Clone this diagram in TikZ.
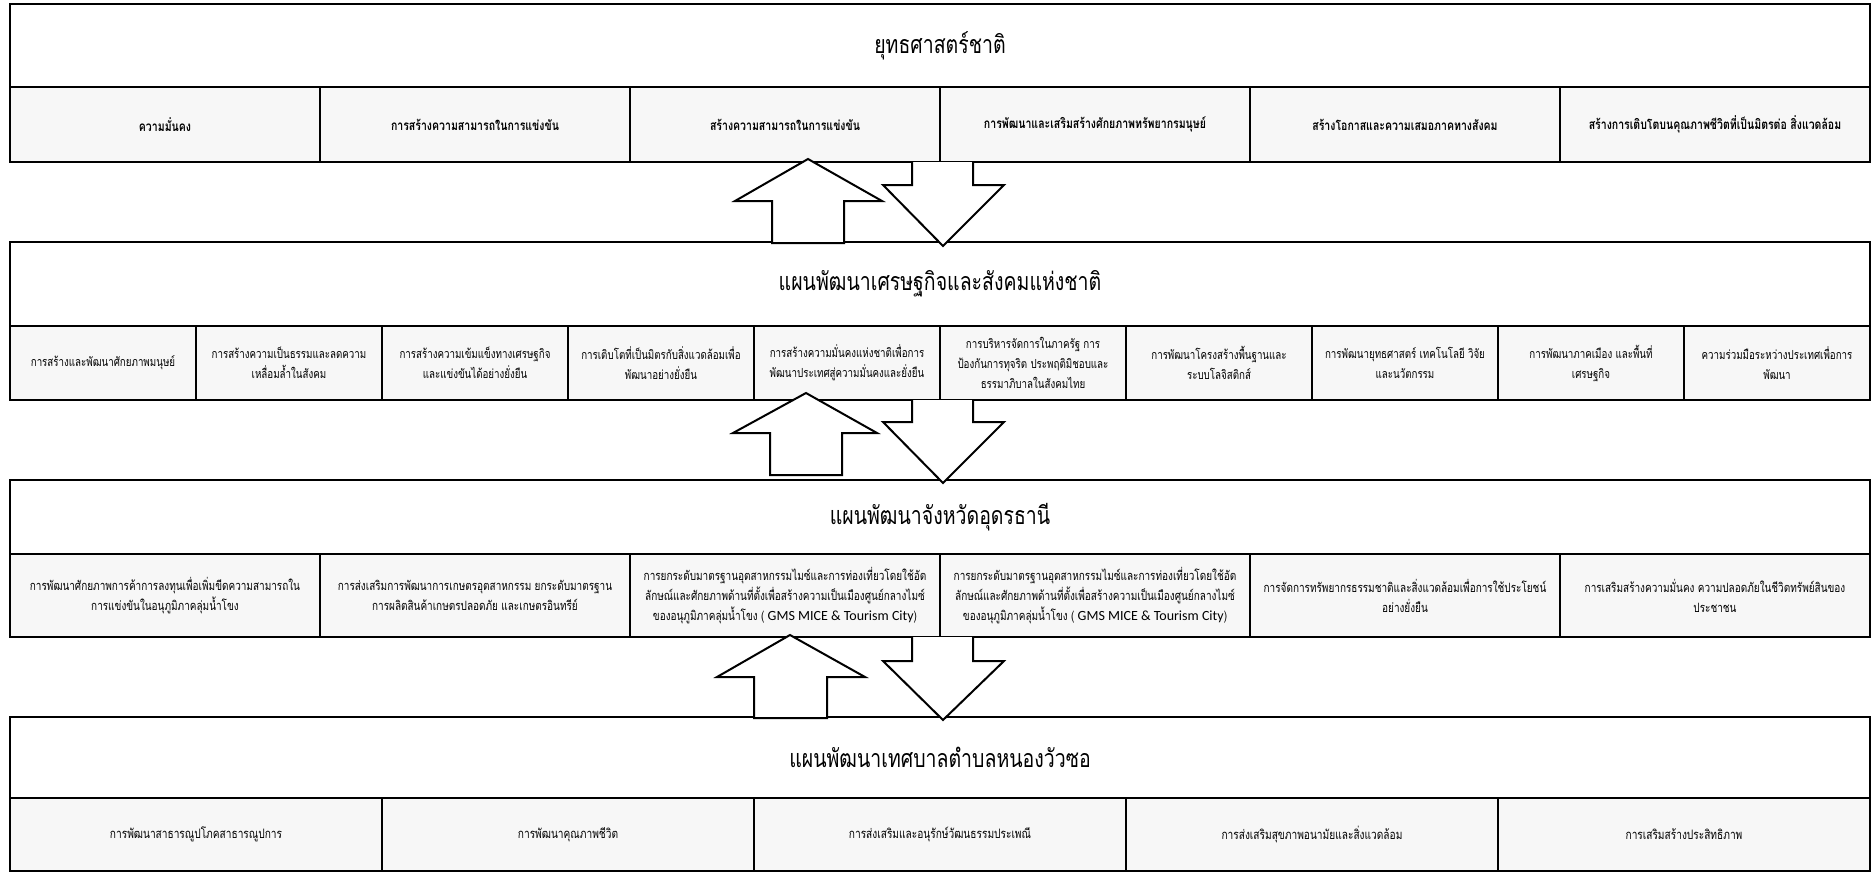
\documentclass[tikz,border=0pt]{standalone}
\usepackage{fontspec}
\newfontfamily\thai[Script=Thai,FakeStretch=0.78]{Loma}
\newfontfamily\carl{Carlito}
\begin{document}
\begin{tikzpicture}[x=1pt,y=-1pt,
  titlebox/.style={draw=black,line width=1.6pt,fill=white,inner sep=0pt,outer sep=0pt,anchor=north west,minimum width=1860pt,font=\thai\fontsize{25}{30}\selectfont},
  cellbox/.style={draw=black,line width=1.6pt,fill=black!3,inner sep=2pt,outer sep=0pt,anchor=north west,align=center},
  boldcell/.style={cellbox,minimum width=310pt,minimum height=75pt,font=\thai\bfseries\fontsize{13.5}{18}\selectfont},
  tencell/.style={cellbox,minimum width=186pt,minimum height=74pt,font=\thai\fontsize{12.5}{20}\selectfont},
  sixcell/.style={cellbox,minimum width=310pt,minimum height=83pt,font=\thai\fontsize{12.8}{20}\selectfont},
  fivecell/.style={cellbox,minimum width=372pt,minimum height=73pt,font=\thai\fontsize{13}{20}\selectfont},
  blockarrow/.style={draw=black,line width=2pt,fill=white,line join=miter}
]
\useasboundingbox (0,0) rectangle (1874,873);
% ---------- panel 1
\node[titlebox,minimum height=83pt] (t1) at (10,4) {ยุทธศาสตร์ชาติ};
\node[boldcell] (a1) at (10,87) {ความมั่นคง};
\node[boldcell] (a2) at (320,87) {การสร้างความสามารถในการแข่งขัน};
\node[boldcell] (a3) at (630,87) {สร้างความสามารถในการแข่งขัน};
\node[boldcell] (a4) at (940,87) {การพัฒนาและเสริมสร้างศักยภาพทรัพยากรมนุษย์};
\node[boldcell] (a5) at (1250,87) {สร้างโอกาสและความเสมอภาคทางสังคม};
\node[boldcell] (a6) at (1560,87) {สร้างการเติบโตบนคุณภาพชีวิตที่เป็นมิตรต่อ สิ่งแวดล้อม};
% ---------- panel 2
\node[titlebox,minimum height=84pt] (t2) at (10,242) {แผนพัฒนาเศรษฐกิจและสังคมแห่งชาติ};
\node[tencell] (b1) at (10,326) {การสร้างและพัฒนาศักยภาพมนุษย์};
\node[tencell] (b2) at (196,326) {การสร้างความเป็นธรรมและลดความ\\เหลื่อมล้ำในสังคม};
\node[tencell] (b3) at (382,326) {การสร้างความเข้มแข็งทางเศรษฐกิจ\\และแข่งขันได้อย่างยั่งยืน};
\node[tencell] (b4) at (568,326) {การเติบโตที่เป็นมิตรกับสิ่งแวดล้อมเพื่อ\\พัฒนาอย่างยั่งยืน};
\node[tencell] (b5) at (754,326) {การสร้างความมั่นคงแห่งชาติเพื่อการ\\พัฒนาประเทศสู่ความมั่นคงและยั่งยืน};
\node[tencell] (b6) at (940,326) {การบริหารจัดการในภาครัฐ การ\\ป้องกันการทุจริต ประพฤติมิชอบและ\\ธรรมาภิบาลในสังคมไทย};
\node[tencell] (b7) at (1126,326) {การพัฒนาโครงสร้างพื้นฐานและ\\ระบบโลจิสติกส์};
\node[tencell] (b8) at (1312,326) {การพัฒนายุทธศาสตร์ เทคโนโลยี วิจัย\\และนวัตกรรม};
\node[tencell] (b9) at (1498,326) {การพัฒนาภาคเมือง และพื้นที่\\เศรษฐกิจ};
\node[tencell] (b10) at (1684,326) {ความร่วมมือระหว่างประเทศเพื่อการ\\พัฒนา};
% ---------- panel 3
\node[titlebox,minimum height=74pt] (t3) at (10,480) {แผนพัฒนาจังหวัดอุดรธานี};
\node[sixcell] (c1) at (10,554) {การพัฒนาศักยภาพการค้าการลงทุนเพื่อเพิ่มขีดความสามารถใน\\การแข่งขันในอนุภูมิภาคลุ่มน้ำโขง};
\node[sixcell] (c2) at (320,554) {การส่งเสริมการพัฒนาการเกษตรอุตสาหกรรม ยกระดับมาตรฐาน\\การผลิตสินค้าเกษตรปลอดภัย และเกษตรอินทรีย์};
\node[sixcell] (c3) at (630,554) {การยกระดับมาตรฐานอุตสาหกรรมไมซ์และการท่องเที่ยวโดยใช้อัต\\ลักษณ์และศักยภาพด้านที่ตั้งเพื่อสร้างความเป็นเมืองศูนย์กลางไมซ์\\ของอนุภูมิภาคลุ่มน้ำโขง ( {\carl\fontsize{14}{20}\selectfont GMS MICE \& Tourism City})};
\node[sixcell] (c4) at (940,554) {การยกระดับมาตรฐานอุตสาหกรรมไมซ์และการท่องเที่ยวโดยใช้อัต\\ลักษณ์และศักยภาพด้านที่ตั้งเพื่อสร้างความเป็นเมืองศูนย์กลางไมซ์\\ของอนุภูมิภาคลุ่มน้ำโขง ( {\carl\fontsize{14}{20}\selectfont GMS MICE \& Tourism City})};
\node[sixcell] (c5) at (1250,554) {การจัดการทรัพยากรธรรมชาติและสิ่งแวดล้อมเพื่อการใช้ประโยชน์\\อย่างยั่งยืน};
\node[sixcell] (c6) at (1560,554) {การเสริมสร้างความมั่นคง ความปลอดภัยในชีวิตทรัพย์สินของ\\ประชาชน};
% ---------- panel 4
\node[titlebox,minimum height=81pt] (t4) at (10,717) {แผนพัฒนาเทศบาลตำบลหนองวัวซอ};
\node[fivecell] (d1) at (10,798) {การพัฒนาสาธารณูปโภคสาธารณูปการ};
\node[fivecell] (d2) at (382,798) {การพัฒนาคุณภาพชีวิต};
\node[fivecell] (d3) at (754,798) {การส่งเสริมและอนุรักษ์วัฒนธรรมประเพณี};
\node[fivecell] (d4) at (1126,798) {การส่งเสริมสุขภาพอนามัยและสิ่งแวดล้อม};
\node[fivecell] (d5) at (1498,798) {การเสริมสร้างประสิทธิภาพ};
% ---------- block arrows
% panel 1 <-> 2
\draw[blockarrow] (808,159) -- (882,201) -- (844,201) -- (844,243) -- (772,243) -- (772,201) -- (735,201) -- cycle;
\draw[blockarrow] (912,162) -- (912,185) -- (883,185) -- (943,246) -- (1004,185) -- (973,185) -- (973,162);
% panel 2 <-> 3
\draw[blockarrow] (806,393) -- (877,433) -- (842,433) -- (842,475) -- (770,475) -- (770,433) -- (733,433) -- cycle;
\draw[blockarrow] (912,400) -- (912,422) -- (883,422) -- (943,483) -- (1004,422) -- (973,422) -- (973,400);
% panel 3 <-> 4
\draw[blockarrow] (790,635) -- (865,677) -- (827,677) -- (827,718) -- (754,718) -- (754,677) -- (717,677) -- cycle;
\draw[blockarrow] (912,637) -- (912,661) -- (883,661) -- (943,720) -- (1004,661) -- (973,661) -- (973,637);
\end{tikzpicture}
\end{document}
